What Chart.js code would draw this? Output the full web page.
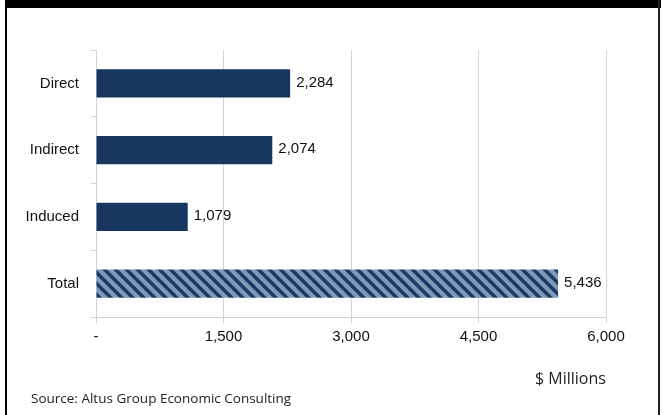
<!DOCTYPE html>
<html>
<head>
<meta charset="utf-8">
<script src="https://cdn.jsdelivr.net/npm/chart.js@4"></script>
<style>
  html, body { margin: 0; padding: 0; background: #fff; }
  #wrap { position: relative; width: 662px; height: 415px; overflow: hidden; }
  #topbar { position: absolute; left: 5px; top: 0; width: 656px; height: 8px; background: #000; }
  #lborder { position: absolute; left: 5px; top: 0; width: 2px; height: 415px; background: #000; }
  #rborder { position: absolute; left: 658px; top: 0; width: 2px; height: 415px; background: #222; }
  #units { position: absolute; left: 535px; top: 367px; font: 16px "Open Sans", sans-serif; color: #222; }
  #source { position: absolute; left: 31px; top: 389px; font: 13.5px "Open Sans", sans-serif; color: #222; }
  canvas { position: absolute; left: 0; top: 0; }
</style>
</head>
<body>
<div id="wrap">
  <canvas id="chart" width="662" height="415"></canvas>
  <div id="topbar"></div>
  <div id="lborder"></div>
  <div id="rborder"></div>
  <div id="units">$ Millions</div>
  <div id="source">Source: Altus Group Economic Consulting</div>
</div>
<script>
  const categories = ["Direct", "Indirect", "Induced", "Total"];
  const impactValues = [2284, 2074, 1079, 5436];
  const xTicks = [0, 1500, 3000, 4500, 6000];

  function fmt(v) {
    return v === 0 ? "-" : v.toLocaleString("en-US");
  }

  // diagonal stripes for the total bar
  function stripePattern() {
    const s = 11;
    const c = document.createElement("canvas");
    c.width = s;
    c.height = s;
    const p = c.getContext("2d");
    p.fillStyle = "#7f99b6";
    p.fillRect(0, 0, s, s);
    p.strokeStyle = "#1b3a64";
    p.lineWidth = 3.4;
    p.beginPath();
    p.moveTo(-s, -s); p.lineTo(2 * s, 2 * s);
    p.moveTo(-2 * s, -s); p.lineTo(s, 2 * s);
    p.moveTo(0, -s); p.lineTo(3 * s, 2 * s);
    p.stroke();
    return p.createPattern(c, "repeat");
  }

  const valueLabels = {
    id: "valueLabels",
    afterDatasetsDraw(chart) {
      const ctx = chart.ctx;
      const meta = chart.getDatasetMeta(0);
      ctx.save();
      ctx.font = '15px "Liberation Sans", Arial, sans-serif';
      ctx.fillStyle = "#111";
      ctx.textBaseline = "middle";
      meta.data.forEach((bar, i) => {
        ctx.fillText(fmt(impactValues[i]), bar.x + 6, bar.y - 1);
      });
      ctx.restore();
    }
  };

  const ctx = document.getElementById("chart").getContext("2d");
  const pattern = stripePattern();

  new Chart(ctx, {
    type: "bar",
    data: {
      labels: categories,
      datasets: [{
        data: impactValues,
        backgroundColor: categories.map((c, i) => i === categories.length - 1 ? pattern : "#173760"),
        barPercentage: 0.42,
        categoryPercentage: 1
      }]
    },
    options: {
      indexAxis: "y",
      responsive: false,
      animation: false,
      layout: { padding: { left: 0, right: 56, top: 50, bottom: 64 } },
      plugins: { legend: { display: false }, tooltip: { enabled: false } },
      scales: {
        x: {
          min: 0,
          max: 6000,
          afterBuildTicks: (axis) => { axis.ticks = xTicks.map(v => ({ value: v })); },
          grid: { color: "#d4d4d4", tickLength: 6 },
          border: { color: "#d4d4d4" },
          ticks: {
            callback: (v) => fmt(v),
            color: "#111",
            padding: 5,
            font: { family: '"Liberation Sans", Arial, sans-serif', size: 15 }
          }
        },
        y: {
          afterFit: (axis) => { axis.width = 96; },
          grid: { color: "#d4d4d4", drawOnChartArea: false, tickLength: 5 },
          border: { color: "#d4d4d4" },
          ticks: {
            color: "#111",
            padding: 12,
            font: { family: '"Liberation Sans", Arial, sans-serif', size: 15 }
          }
        }
      }
    },
    plugins: [valueLabels]
  });
</script>
</body>
</html>
